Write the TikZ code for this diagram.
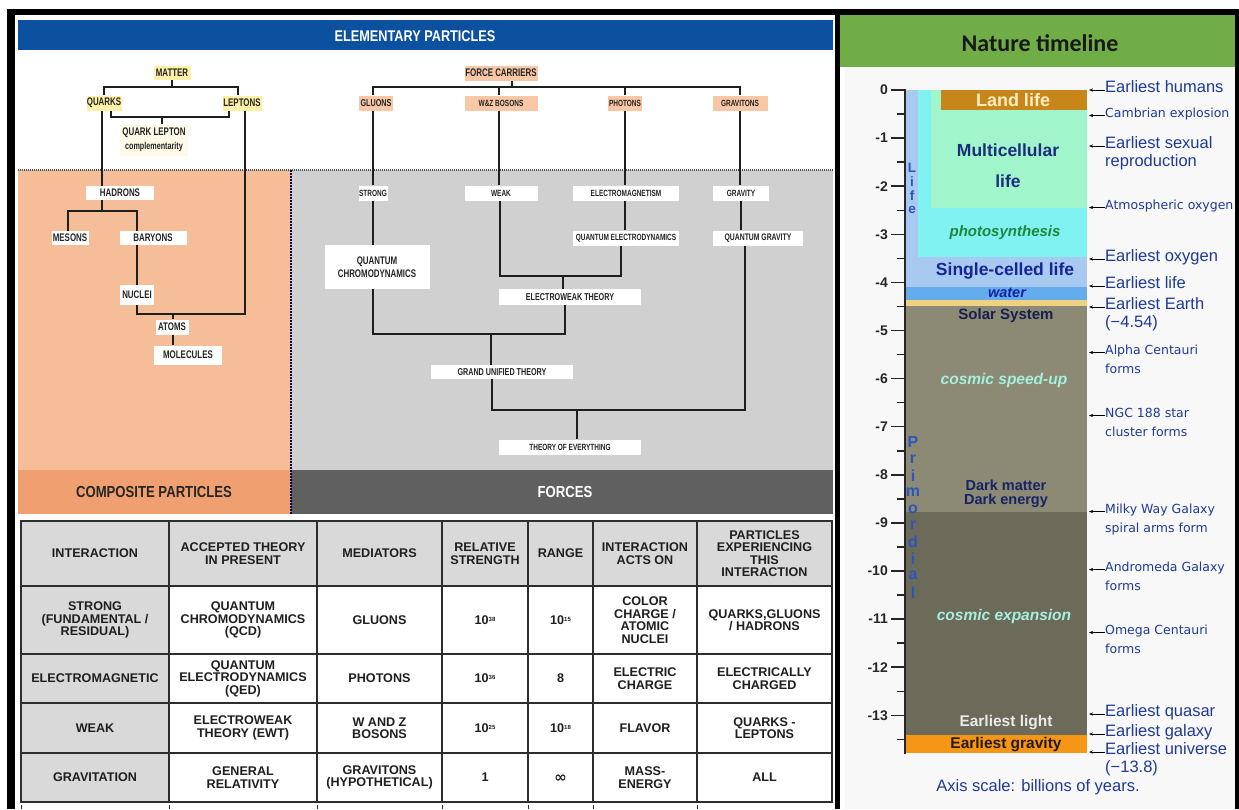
\documentclass[tikz,border=0pt]{standalone}
\usepackage{fontspec}
\setmainfont{Liberation Sans}
\newfontfamily\condA[FakeStretch=0.72]{Liberation Sans}
\newfontfamily\condB[FakeStretch=0.82]{Liberation Sans}
\newfontfamily\dvs{DejaVu Sans}
\newfontfamily\carl{Carlito}
\usetikzlibrary{arrows.meta}
\newcommand{\fsz}[2]{\fontsize{#1}{#2}\selectfont}
\definecolor{bluehead}{RGB}{12,80,160}
\definecolor{peach}{RGB}{245,190,152}
\definecolor{greyreg}{RGB}{208,208,208}
\definecolor{compband}{RGB}{240,160,112}
\definecolor{forceband}{RGB}{96,96,96}
\definecolor{ylw}{RGB}{255,240,168}
\definecolor{salmon}{RGB}{248,200,166}
\definecolor{qlfill}{RGB}{255,250,232}
\definecolor{treeline}{RGB}{30,30,30}
\definecolor{treetext}{RGB}{35,35,35}
\definecolor{tabgray}{RGB}{217,217,217}
\definecolor{tabline}{RGB}{45,45,45}
\definecolor{tlbg}{RGB}{248,248,248}
\definecolor{tlgreen}{RGB}{112,173,71}
\definecolor{landc}{RGB}{200,134,26}
\definecolor{landtxt}{RGB}{255,240,195}
\definecolor{multic}{RGB}{160,245,202}
\definecolor{cyanc}{RGB}{128,242,242}
\definecolor{lblue}{RGB}{168,202,240}
\definecolor{waterc}{RGB}{100,172,238}
\definecolor{sandc}{RGB}{238,210,130}
\definecolor{khaki}{RGB}{140,138,116}
\definecolor{darkol}{RGB}{108,106,88}
\definecolor{gravorange}{RGB}{245,150,22}
\definecolor{navy}{RGB}{28,45,125}
\definecolor{labblue}{RGB}{30,58,150}
\definecolor{photg}{RGB}{30,135,60}
\definecolor{palecyan}{RGB}{165,240,222}
\definecolor{solarnavy}{RGB}{25,30,80}
\definecolor{lifeblue}{RGB}{45,85,190}
\begin{document}
\begin{tikzpicture}[x=1pt,y=-1pt,
  conn/.style={draw=treeline, line width=1.5pt},
  tb/.style={inner sep=0pt, align=center, text=treetext, font=\condA\bfseries\fsz{11}{13}},
  tbs/.style={tb, font=\condA\bfseries\fsz{9}{10}},
  tcell/.style={inner sep=0pt, align=center, text=black!88, font=\bfseries\fsz{12.6}{12.5}},
  barlab/.style={inner sep=0pt, font=\bfseries\fsz{15.5}{16}},
  labL/.style={inner sep=0pt, anchor=base west, align=left, text=labblue, font=\fsz{16.5}{18.5}},
  labS/.style={inner sep=0pt, anchor=base west, align=left, text=labblue, font=\dvs\fsz{12.5}{18.5}},
  arr/.style={-{Stealth[length=4pt,width=3.2pt]}, line width=0.8pt, black},
  tick/.style={line width=1.5pt, black!85},
]
\useasboundingbox (0,0) rectangle (1239,809);
\fill[white] (0,0) rectangle (1239,809);
% frame
\fill[black] (7,9) rectangle (1239,809);
\fill[white] (15,15) rectangle (835,809);
\fill[tlbg] (840,15) rectangle (1235,809);
\fill[white] (840,67) rectangle (845,809);
\fill[tlgreen] (840,15) rectangle (1235,67);

% ===== left panel =====
\fill[bluehead] (18,20) rectangle (833,50);
\node[font=\condB\bfseries\fsz{15.5}{16}, text=white, inner sep=0pt] (hdr) at (415,36) {ELEMENTARY PARTICLES};
\fill[peach] (18,170) rectangle (291,470);
\fill[greyreg] (291,170) rectangle (833,470);
\fill[compband] (18,470) rectangle (291,514);
\fill[forceband] (291,470) rectangle (833,514);
\draw[gray!60!black, line width=1.2pt, dash pattern=on 1pt off 1pt] (18,170) -- (833,170);
\draw[blue!35!black, line width=1.5pt, dash pattern=on 1.5pt off 1.5pt] (291,170) -- (291,514);
\node[font=\condB\bfseries\fsz{16}{17}, text=black!85, inner sep=0pt] (comp) at (154,492) {COMPOSITE PARTICLES};
\node[font=\condB\bfseries\fsz{16}{17}, text=white, inner sep=0pt] (forces) at (565,492) {FORCES};

% matter tree
\node[tb, fill=ylw, minimum width=37, minimum height=14] (matter) at (172,73) {MATTER};
\node[tb, fill=ylw, minimum width=35, minimum height=15] (quarks) at (104,103) {QUARKS};
\node[tb, fill=ylw, minimum width=39, minimum height=15] (leptons) at (242,103) {LEPTONS};
\node[tb, fill=qlfill, minimum width=68, minimum height=31] (qlc) at (154,140) {QUARK LEPTON\\[1pt]{\fsz{10}{11}complementarity}};
\node[tb, fill=white, minimum width=68, minimum height=14] (hadrons) at (120,193) {HADRONS};
\node[tb, fill=white, minimum width=37, minimum height=14] (mesons) at (70,238) {MESONS};
\node[tb, fill=white, minimum width=67, minimum height=14] (baryons) at (153,238) {BARYONS};
\node[tb, fill=white, minimum width=34, minimum height=20] (nuclei) at (137,295) {NUCLEI};
\node[tb, fill=white, minimum width=33, minimum height=15] (atoms) at (172,327) {ATOMS};
\node[tb, fill=white, minimum width=68, minimum height=19] (molecules) at (188,355) {MOLECULES};

\coordinate (mb) at (172,87);
\draw[conn] (quarks.north) |- (mb) -| ([xshift=-4pt]leptons.north);
\draw[conn] (matter.south) -- (mb);
\coordinate (qb) at (162,117);
\draw[conn] ([xshift=7pt]quarks.south) |- (qb) -| ([xshift=-13pt]leptons.south);
\draw[conn] (qb) -- (qb |- qlc.north);
\draw[conn] ([xshift=-2pt]quarks.south) -- ([xshift=-2pt]quarks.south |- hadrons.north);
\coordinate (hb) at (102,211);
\draw[conn] ([xshift=-2pt]mesons.north) |- (hb) -| ([xshift=-16pt]baryons.north);
\draw[conn] (hb) -- (hb |- hadrons.south);
\draw[conn] (nuclei.north |- baryons.south) -- (nuclei.north);
\coordinate (ab) at (173,314);
\draw[conn] ([xshift=3pt]leptons.south) |- (nuclei.south |- ab) -- (nuclei.south);
\draw[conn] (ab) -- (ab |- atoms.north);
\draw[conn] ([xshift=1pt]atoms.south) -- ([xshift=1pt]atoms.south |- molecules.north);

% force tree
\node[tb, fill=salmon, minimum width=73, minimum height=15] (force) at (501,73) {FORCE CARRIERS};
\node[tb, fill=salmon, minimum width=34, minimum height=15, font=\condA\bfseries\fsz{10}{11}] (gluons) at (376,103) {GLUONS};
\node[tbs, fill=salmon, minimum width=73, minimum height=15] (wz) at (501,103) {W\&Z BOSONS};
\node[tbs, fill=salmon, minimum width=34, minimum height=15] (photons) at (625,103) {PHOTONS};
\node[tbs, fill=salmon, minimum width=55, minimum height=15] (gravitons) at (740,103) {GRAVITONS};
\node[tbs, fill=white, minimum width=29, minimum height=15] (strong) at (373,193) {STRONG};
\node[tb, fill=white, minimum width=105, minimum height=44] (qcd) at (377,267) {QUANTUM\\CHROMODYNAMICS};
\node[tbs, fill=white, minimum width=73, minimum height=15] (weak) at (501,193) {WEAK};
\node[tbs, fill=white, minimum width=106, minimum height=15] (em) at (626,193) {ELECTROMAGNETISM};
\node[tbs, fill=white, minimum width=106, minimum height=15] (qed) at (626,238) {QUANTUM ELECTRODYNAMICS};
\node[tbs, fill=white, minimum width=56, minimum height=15] (gravity) at (741,193) {GRAVITY};
\node[tbs, fill=white, minimum width=90, minimum height=15, font=\condA\bfseries\fsz{9.5}{10}] (qg) at (758,238) {QUANTUM GRAVITY};
\node[tb, fill=white, minimum width=142, minimum height=16, font=\condA\bfseries\fsz{10}{11}] (ew) at (570,297) {ELECTROWEAK THEORY};
\node[tb, fill=white, minimum width=142, minimum height=14, font=\condA\bfseries\fsz{10}{11}] (gut) at (502,372) {GRAND UNIFIED THEORY};
\node[tbs, fill=white, minimum width=142, minimum height=15] (toe) at (570,447) {THEORY OF EVERYTHING};

\coordinate (fb) at (512,87);
\draw[conn] ([xshift=-3pt]gluons.north) |- (fb) -| (gravitons.north);
\draw[conn] (fb) -- (fb |- force.south);
\draw[conn] ([xshift=-2pt]wz.north) -- ([xshift=-2pt]wz.north |- fb);
\draw[conn] (photons.north) -- (photons.north |- fb);
\draw[conn] ([xshift=-3pt]gluons.south) -- (strong.north);
\draw[conn] (strong.south) -- (strong.south |- qcd.north);
\draw[conn] ([xshift=-2pt]wz.south) -- ([xshift=-2pt]weak.north);
\draw[conn] (photons.south) -- (photons.south |- em.north);
\draw[conn] (gravitons.south) -- (gravitons.south |- gravity.north);
\draw[conn] ([xshift=-1pt]em.south) -- ([xshift=-1pt]qed.north);
\draw[conn] (gravity.south) -- (gravity.south |- qg.north);
\coordinate (wb) at (563,276);
\draw[conn] ([xshift=-1pt]weak.south) |- (wb) -| ([xshift=-5pt]qed.south);
\draw[conn] (wb) -- (wb |- ew.north);
\coordinate (gb) at (491,334);
\draw[conn] (qcd.south -| strong) |- (gb) -| ([xshift=-5pt]ew.south);
\draw[conn] (gb) -- (gb |- gut.north);
\coordinate (tbus) at (577,410);
\draw[conn] ([xshift=-10pt]gut.south) |- (tbus) -| ([xshift=-13pt]qg.south);
\draw[conn] (tbus) -- (tbus |- toe.north);

% ===== table =====
\fill[tabgray] (21,521) rectangle (832,586);
\fill[tabgray] (21,586) rectangle (169,802);
\fill[white] (169,586) rectangle (832,802);
\foreach \x in {169,317,442,528,593,697} \draw[tabline, line width=1.5pt] (\x,521) -- (\x,802);
\foreach \y in {586,654,703,753} \draw[tabline, line width=1.5pt] (21,\y) -- (832,\y);
\draw[tabline, line width=1.8pt] (21,521) rectangle (832,802);
\foreach \x in {21,169,317,442,528,593,697} \draw[tabline, line width=1pt] (\x,805) -- (\x,809);

\node[tcell] (h1) at (95,553.5) {INTERACTION};
\node[tcell] (h2) at (243,553.5) {ACCEPTED THEORY\\IN PRESENT};
\node[tcell] (h3) at (379.5,553.5) {MEDIATORS};
\node[tcell] (h4) at (485,553.5) {RELATIVE\\STRENGTH};
\node[tcell] (h5) at (560.5,553.5) {RANGE};
\node[tcell] (h6) at (645,553.5) {INTERACTION\\ACTS ON};
\node[tcell] (h7) at (764.5,553.5) {PARTICLES\\EXPERIENCING\\THIS\\INTERACTION};

\node[tcell] (a1) at (95,620) {STRONG\\(FUNDAMENTAL /\\RESIDUAL)};
\node[tcell] (a2) at (243,620) {QUANTUM\\CHROMODYNAMICS\\(QCD)};
\node[tcell] (a3) at (379.5,620) {GLUONS};
\node[tcell] (a4) at (485,620) {10\raisebox{3pt}{\fsz{6}{6}38}};
\node[tcell] (a5) at (560.5,620) {10\raisebox{3pt}{\fsz{6}{6}15}};
\node[tcell] (a6) at (645,620) {COLOR\\CHARGE /\\ATOMIC\\NUCLEI};
\node[tcell] (a7) at (764.5,620) {QUARKS,GLUONS\\/ HADRONS};

\node[tcell] (b1) at (95,678.5) {ELECTROMAGNETIC};
\node[tcell] (b2) at (243,678.5) {QUANTUM\\ELECTRODYNAMICS\\(QED)};
\node[tcell] (b3) at (379.5,678.5) {PHOTONS};
\node[tcell] (b4) at (485,678.5) {10\raisebox{3pt}{\fsz{6}{6}36}};
\node[tcell] (b5) at (560.5,678.5) {8};
\node[tcell] (b6) at (645,678.5) {ELECTRIC\\CHARGE};
\node[tcell] (b7) at (764.5,678.5) {ELECTRICALLY\\CHARGED};

\node[tcell] (c1) at (95,728) {WEAK};
\node[tcell] (c2) at (243,728) {ELECTROWEAK\\THEORY (EWT)};
\node[tcell] (c3) at (379.5,728) {W AND Z\\BOSONS};
\node[tcell] (c4) at (485,728) {10\raisebox{3pt}{\fsz{6}{6}25}};
\node[tcell] (c5) at (560.5,728) {10\raisebox{3pt}{\fsz{6}{6}18}};
\node[tcell] (c6) at (645,728) {FLAVOR};
\node[tcell] (c7) at (764.5,728) {QUARKS -\\LEPTONS};

\node[tcell] (d1) at (95,777.5) {GRAVITATION};
\node[tcell] (d2) at (243,777.5) {GENERAL\\RELATIVITY};
\node[tcell] (d3) at (379.5,777.5) {GRAVITONS\\(HYPOTHETICAL)};
\node[tcell] (d4) at (485,777.5) {1};
\node[tcell, font=\dvs\bfseries\fsz{15}{15}] (d5) at (560.5,778.5) {∞};
\node[tcell] (d6) at (645,777.5) {MASS-\\ENERGY};
\node[tcell] (d7) at (764.5,777.5) {ALL};

% ===== timeline =====
\node[font=\carl\bfseries\fsz{24}{26}, text=black!90, inner sep=0pt] (tltitle) at (1040,43) {Nature timeline};

\fill[lblue] (905,90) rectangle (1087,287);
\fill[cyanc] (918,90) rectangle (1087,257);
\fill[multic] (931,90) rectangle (1087,208);
\fill[landc] (941,90) rectangle (1087,110);
\fill[waterc] (905,287) rectangle (1087,300);
\fill[sandc] (905,300) rectangle (1087,306);
\fill[khaki] (905,306) rectangle (1087,512);
\fill[darkol] (905,512) rectangle (1087,735);
\fill[gravorange] (905,735) rectangle (1087,753);

\coordinate (ax0) at (905,89);
\coordinate (ax1) at (905,754);
\draw[line width=2pt, black!85] (ax0) -- (ax1);
\foreach \i in {0,...,13} {
  \draw[tick] (891,{90+48.1*\i}) -- (905,{90+48.1*\i});
  \draw[tick] (897,{114.05+48.1*\i}) -- (905,{114.05+48.1*\i});
  \node[anchor=east, inner sep=0pt, font=\bfseries\fsz{14}{14}, text=black!85] at (888,{90+48.1*\i}) {\ifnum\i=0 0\else-\i\fi};
}

% bar texts
\node[barlab, text=landtxt, font=\bfseries\fsz{18}{18}] (tland) at (1013,100) {Land life};
\node[barlab, text=navy, font=\bfseries\fsz{17.5}{31}, align=center] (tmulti) at (1008,166) {Multicellular\\life};
\node[barlab, text=photg, font=\bfseries\itshape\fsz{15}{16}] (tphoto) at (1005,233) {photosynthesis};
\node[barlab, text=navy!80!blue, font=\bfseries\fsz{17.5}{18}] (tsingle) at (1005,271) {Single-celled life};
\node[barlab, text=navy!70!blue, font=\bfseries\itshape\fsz{14.5}{15}] (twater) at (1007,293) {water};
\node[barlab, text=solarnavy, font=\bfseries\fsz{15}{16}] (tsolar) at (1006,316) {Solar System};
\node[barlab, text=palecyan, font=\bfseries\itshape\fsz{15.5}{16}] (tspeed) at (1004,380) {cosmic speed-up};
\node[barlab, text=navy!80!black, align=center, font=\bfseries\fsz{14.5}{14}] (tdark) at (1006,494) {Dark matter\\Dark energy};
\node[barlab, text=palecyan, font=\bfseries\itshape\fsz{15.5}{16}] (texp) at (1004,616) {cosmic expansion};
\node[barlab, text=white!92!black] (tlight) at (1006,723) {Earliest light};
\node[barlab, text=black!80!brown] (tgrav) at (1006,745) {Earliest gravity};

% vertical words
\foreach \ch [count=\k from 0] in {L,i,f,e}
  \node[inner sep=0pt, font=\bfseries\fsz{13.5}{14}, text=lifeblue] at (912,{168+14*\k}) {\ch};
\foreach \ch [count=\k from 0] in {P,r,i,m,o,r,d,i,a,l}
  \node[inner sep=0pt, font=\bfseries\fsz{16}{17}, text=lifeblue] at (913,{442+16.7*\k}) {\ch};

% right labels (base = baseline of the last line)
\node[labL] (L1) at (1105,92) {Earliest humans};
\node[labS] (L2) at (1105,117.5) {Cambrian explosion};
\node[labL] (L3) at (1105,166.5) {Earliest sexual\\reproduction};
\node[labS] (L4) at (1105,209.5) {Atmospheric oxygen};
\node[labL] (L5) at (1105,261) {Earliest oxygen};
\node[labL] (L6) at (1105,288) {Earliest life};
\node[labL] (L7) at (1105,327.5) {Earliest Earth\\(−4.54)};
\node[labS] (L8) at (1105,373) {Alpha Centauri\\forms};
\node[labS] (L9) at (1105,436) {NGC 188 star\\cluster forms};
\node[labS] (L10) at (1105,532) {Milky Way Galaxy\\spiral arms form};
\node[labS] (L11) at (1105,590) {Andromeda Galaxy\\forms};
\node[labS] (L12) at (1105,653) {Omega Centauri\\forms};
\node[labL] (L13) at (1105,716) {Earliest quasar};
\node[labL] (L14) at (1105,736) {Earliest galaxy};
\node[labL] (L15) at (1105,772.5) {Earliest universe\\(−13.8)};
\foreach \n in {1,2,4,5,6,13,14}
  \draw[arr] ([yshift=2pt]L\n.base west) -- ([xshift=-16pt,yshift=2pt]L\n.base west);
\foreach \n in {3,7,8,9,10,11,12,15}
  \draw[arr] ([yshift=20.5pt]L\n.base west) -- ([xshift=-16pt,yshift=20.5pt]L\n.base west);

\node[inner sep=0pt, text=labblue, font=\fsz{16.5}{17}] (axisnote) at (1038,787) {Axis scale: billions of years.};
\end{tikzpicture}
\end{document}
